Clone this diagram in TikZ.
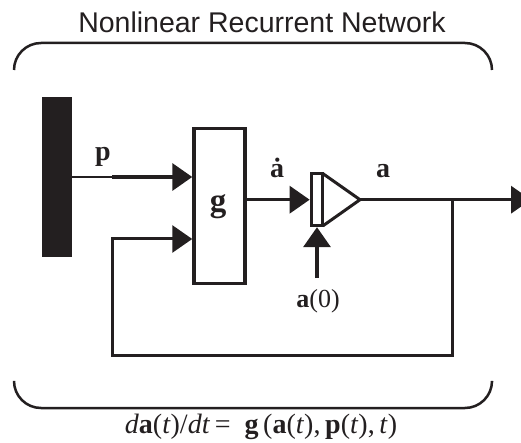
\documentclass[tikz,border=0pt]{standalone}
\usepackage{fontspec}
\setmainfont{Liberation Serif}
\newfontfamily\titlefont{Liberation Sans}
\usetikzlibrary{arrows.meta}
\definecolor{ink}{RGB}{35,31,32}
\begin{document}
\begin{tikzpicture}[x=1pt,y=-1pt, color=ink, line join=miter,
  sig/.style={line width=3.5pt, draw=ink},
  fb/.style={line width=3pt, draw=ink},
  arr/.style={-{Triangle[length=20pt,width=27pt]}},
  lbl/.style={font=\fontsize{28}{30}\selectfont\bfseries, inner sep=0pt, anchor=base},
  brace/.style={line width=2.5pt, rounded corners=27pt, draw=ink}]
\useasboundingbox (0,0) rectangle (521,443);
% title and braces
\node[font=\titlefont\fontsize{28.5}{30}\selectfont, anchor=base, inner sep=0pt] (title) at (262,33) {Nonlinear Recurrent Network};
\draw[brace] (14,70) -- (14,43) -- (492,43) -- (492,70);
\draw[brace] (14,382) -- (14,408) -- (492,408) -- (492,382);
\node[font=\fontsize{28}{30}\selectfont, anchor=base, inner sep=0pt] (eq) at (261,433)
  {\textit{d}\textbf{a}(\textit{t})/\textit{dt}\,=\ \ \textbf{g}\,(\textbf{a}(\textit{t}),\,\textbf{p}(\textit{t}),\,\textit{t})};
% blocks
\node[fill=ink, minimum width=30pt, minimum height=160pt, inner sep=0pt, outer sep=0pt] (bar) at (57,177) {};
\node[draw=ink, line width=3.5pt, minimum width=51pt, minimum height=154.6pt, inner sep=0pt] (g) at (219.5,206) {};
\node[lbl, font=\fontsize{33}{35}\selectfont\bfseries] (glbl) at (218,212) {g};
\node[draw=ink, line width=3pt, minimum width=11.7pt, minimum height=52pt, inner sep=0pt] (int) at (317,199.7) {};
\coordinate (tri) at (360,199.7);
\draw[line width=3pt] (323,173.7) -- (tri) -- (323,225.8);
% coordinates
\coordinate (pbreak) at (112,177);
\coordinate (j) at (452,199.7);
\coordinate (out) at (531,199.7);
\coordinate (fb1) at (452,355);
\coordinate (fb2) at (112,355);
\coordinate (fb3) at (112,239);
\coordinate (a0start) at (317,278);
% connectors
\draw[line width=1.5pt] (bar.east |- pbreak) -- (pbreak);
\draw[sig, arr] (pbreak) -- (g.west |- pbreak);
\draw[sig, arr] (g.east |- int.west) -- (int.west);
\draw[sig, arr] (tri) -- (out);
\draw[fb, arr] (j) -- (fb1) -- (fb2) -- (fb3) -- (g.west |- fb3);
\draw[sig, arr] (a0start) -- (int.south);
% labels
\node[lbl] (plbl) at (103,161) {p};
\node[lbl] (adot) at (277,178) {\.{a}};
\node[lbl] (albl) at (383,178) {a};
\node[font=\fontsize{26}{28}\selectfont, anchor=base, inner sep=0pt] (a0) at (318,307) {\textbf{a}(0)};
\end{tikzpicture}
\end{document}
